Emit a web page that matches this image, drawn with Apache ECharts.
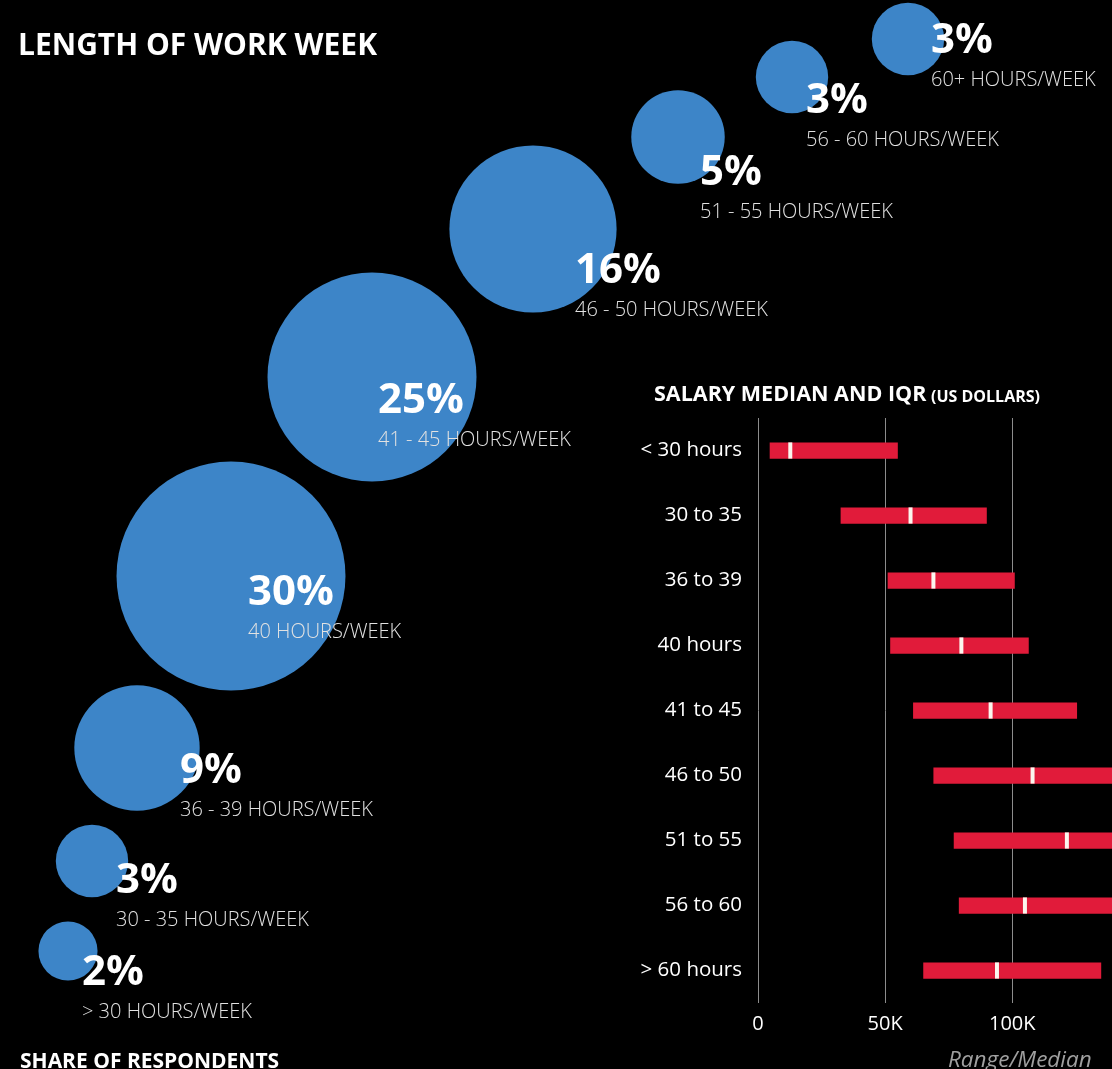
<!DOCTYPE html>
<html>
<head>
<meta charset="utf-8">
<title>Length of Work Week</title>
<script src="https://cdn.jsdelivr.net/npm/echarts@6/dist/echarts.min.js"></script>
<style>
  html, body { margin: 0; padding: 0; background: #000; }
  #chart { width: 1112px; height: 1069px; }
</style>
</head>
<body>
<div id="chart"></div>
<script>
// Share of respondents by length of work week (percent)
const shareLabels = [
  '> 30 HOURS/WEEK', '30 - 35 HOURS/WEEK', '36 - 39 HOURS/WEEK', '40 HOURS/WEEK',
  '41 - 45 HOURS/WEEK', '46 - 50 HOURS/WEEK', '51 - 55 HOURS/WEEK',
  '56 - 60 HOURS/WEEK', '60+ HOURS/WEEK'
];
const shareValues = [2, 3, 9, 30, 25, 16, 5, 3, 3];

// Salary interquartile range and median by hours worked (US dollars)
const salaryCategories = [
  '< 30 hours', '30 to 35', '36 to 39', '40 hours', '41 to 45',
  '46 to 50', '51 to 55', '56 to 60', '> 60 hours'
];
const salaryLow    = [4600, 32500, 51000, 52000, 61000, 69000, 77000, 79000, 65000];
const salaryMedian = [12700, 60000, 69000, 80000, 91500, 108000, 121500, 105000, 94000];
const salaryHigh   = [55000, 90000, 101000, 106500, 125500, 150000, 165000, 155000, 135000];
const salaryTicks  = [0, 50000, 100000];

// Placement of the bubbles along the rising diagonal, and of their captions
const bubbleLayout = {
  x: [68, 92, 137, 231, 372, 533, 678, 792, 908],
  y: [951, 861, 748, 576, 377, 229, 137, 77, 39],
  labelOffset: [[14, 0], [24, -2], [43, 1], [17, -5], [6, 2], [42, 20], [22, 14], [14, 2], [23, -20]]
};

const FONT = '"Open Sans", "Noto Sans", sans-serif';
const BLUE = '#3d85c8';
const RED = '#e11b3a';

const chart = echarts.init(document.getElementById('chart'), null, { renderer: 'canvas' });

const bubbleData = shareValues.map((v, i) => ({
  value: [bubbleLayout.x[i], bubbleLayout.y[i], v],
  name: shareLabels[i],
  label: { offset: bubbleLayout.labelOffset[i] }
}));

const salaryData = salaryCategories.map((c, i) => [i, salaryLow[i], salaryMedian[i], salaryHigh[i]]);

const option = {
  backgroundColor: '#000',
  animation: false,
  textStyle: { fontFamily: FONT },
  title: [
    {
      text: 'LENGTH OF WORK WEEK',
      left: 13, top: 26,
      textStyle: { color: '#fff', fontSize: 30, fontWeight: 'bold', fontFamily: FONT }
    },
    {
      text: 'SHARE OF RESPONDENTS',
      left: 15, top: 1047,
      textStyle: { color: '#fff', fontSize: 21, fontWeight: 'bold', fontFamily: FONT }
    },
    {
      text: '{a|SALARY MEDIAN AND IQR} {b|(US DOLLARS)}',
      left: 649, top: 379,
      textStyle: {
        rich: {
          a: { color: '#fff', fontSize: 21.5, fontWeight: 'bold', fontFamily: FONT },
          b: { color: '#fff', fontSize: 16, fontWeight: 'bold', fontFamily: FONT, padding: [4, 0, 0, 0] }
        }
      }
    },
    {
      text: 'Range/Median',
      left: 943, top: 1044,
      textStyle: { color: '#a0a0a0', fontSize: 22.5, fontStyle: 'italic', fontWeight: 'normal', fontFamily: FONT }
    }
  ],
  grid: [
    { left: 0, top: 0, width: 1112, height: 1069, outerBoundsMode: 'none' },
    { left: 758, top: 418, width: 361, height: 585, outerBoundsMode: 'none' }
  ],
  xAxis: [
    { gridIndex: 0, type: 'value', min: 0, max: 1112, show: false },
    {
      gridIndex: 1, type: 'value', min: 0, max: 142000, interval: 50000,
      axisLine: { show: false }, axisTick: { show: false },
      splitLine: { show: true, lineStyle: { color: '#8c8c8c', width: 1 } },
      axisLabel: {
        color: '#fff', fontSize: 20, fontFamily: FONT, margin: 11,
        formatter: v => salaryTicks.indexOf(v) < 0 ? '' : (v === 0 ? '0' : (v / 1000) + 'K')
      }
    }
  ],
  yAxis: [
    { gridIndex: 0, type: 'value', min: 0, max: 1069, inverse: true, show: false },
    {
      gridIndex: 1, type: 'category', data: salaryCategories, inverse: true,
      axisLine: { show: false }, axisTick: { show: false }, splitLine: { show: false },
      axisLabel: { color: '#fff', fontSize: 20.5, fontFamily: FONT, margin: 16 }
    }
  ],
  series: [
    {
      type: 'scatter',
      xAxisIndex: 0, yAxisIndex: 0,
      data: bubbleData,
      symbol: 'circle',
      symbolSize: d => Math.sqrt(d[2]) * 41.8,
      itemStyle: { color: BLUE, opacity: 1 },
      label: {
        show: true,
        position: 'inside',
        align: 'left',
        verticalAlign: 'top',
        formatter: p => '{p|' + p.value[2] + '%}\n{h|' + p.name + '}',
        rich: {
          p: { color: '#fff', fontSize: 42, fontWeight: 'bold', fontFamily: FONT, lineHeight: 44 },
          h: { color: '#e2e2e2', fontSize: 20, fontWeight: 300, fontFamily: FONT, lineHeight: 34 }
        }
      },
      emphasis: { disabled: true }
    },
    {
      type: 'custom',
      xAxisIndex: 1, yAxisIndex: 1,
      data: salaryData,
      encode: { x: [1, 2, 3], y: 0 },
      clip: true,
      renderItem: function (params, api) {
        const idx = api.value(0);
        const start = api.coord([api.value(1), idx]);
        const mid = api.coord([api.value(2), idx]);
        const end = api.coord([api.value(3), idx]);
        const h = api.size([0, 1])[1] * 0.25;
        return {
          type: 'group',
          children: [
            { type: 'rect', shape: { x: start[0], y: start[1] - h / 2, width: end[0] - start[0], height: h }, style: { fill: RED } },
            { type: 'rect', shape: { x: mid[0] - 2, y: start[1] - h / 2, width: 4, height: h }, style: { fill: '#fbf6ee' } }
          ]
        };
      }
    }
  ]
};

chart.setOption(option);
</script>
</body>
</html>
